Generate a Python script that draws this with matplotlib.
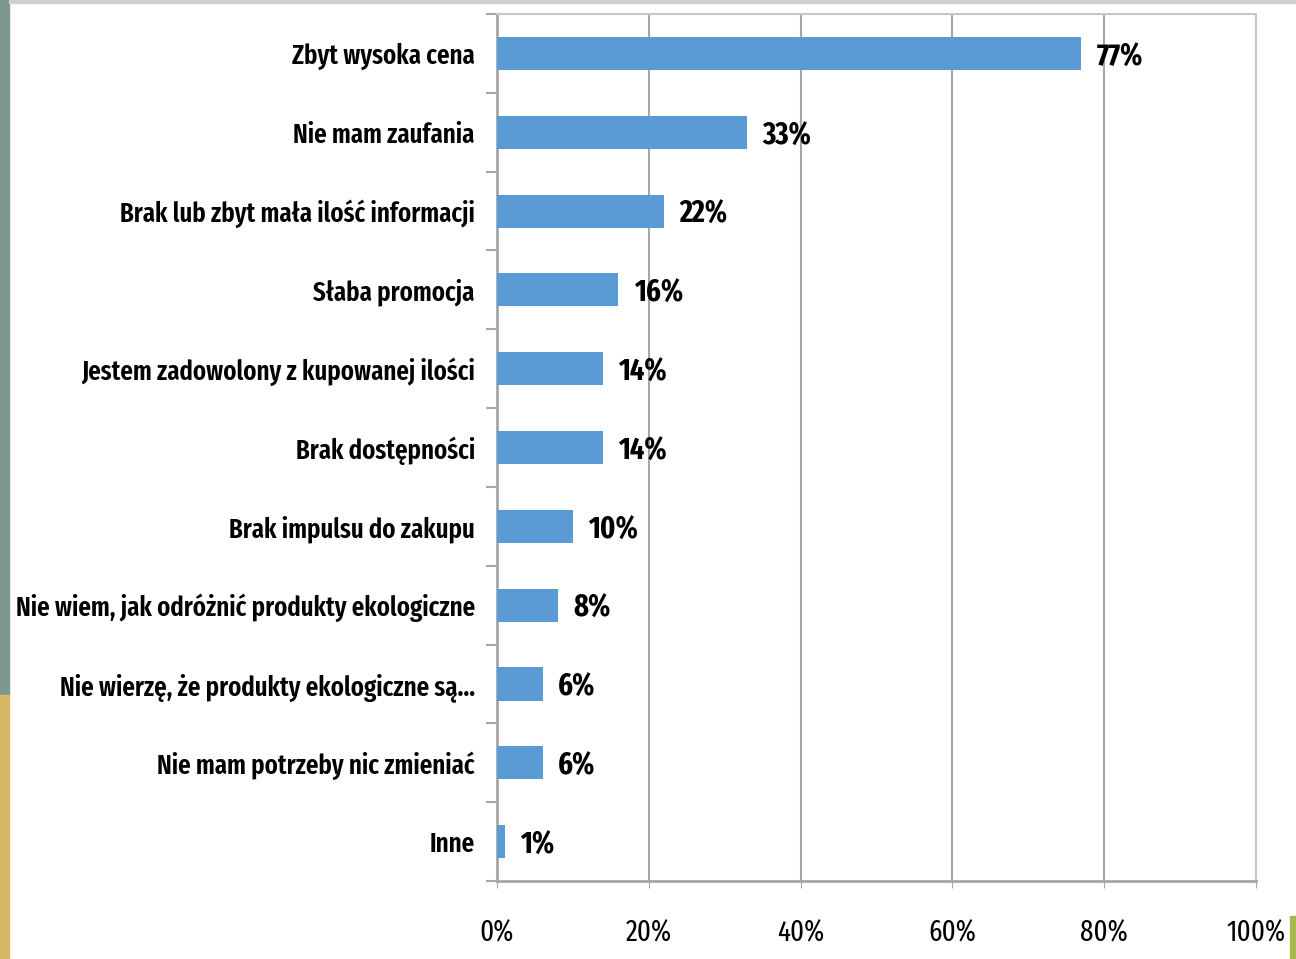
import matplotlib
matplotlib.use("Agg")
import matplotlib.pyplot as plt
from matplotlib.patches import Rectangle

# dane ankiety: powody niekupowania produktów ekologicznych (%)
kategorie = [
    "Zbyt wysoka cena",
    "Nie mam zaufania",
    "Brak lub zbyt mała ilość informacji",
    "Słaba promocja",
    "Jestem zadowolony z kupowanej ilości",
    "Brak dostępności",
    "Brak impulsu do zakupu",
    "Nie wiem, jak odróżnić produkty ekologiczne",
    "Nie wierzę, że produkty ekologiczne są...",
    "Nie mam potrzeby nic zmieniać",
    "Inne",
]
wartosci = [77, 33, 22, 16, 14, 14, 10, 8, 6, 6, 1]
xticki = [0, 20, 40, 60, 80, 100]

FONT = ["Fira Sans Extra Condensed", "PT Sans Narrow", "DejaVu Sans"]
plt.rcParams["font.family"] = FONT

fig = plt.figure(figsize=(12.96, 9.59), dpi=100)
fig.patch.set_facecolor("white")

# pasek tła slajdu po lewej stronie i drobne elementy w rogach
fig.patches.append(Rectangle((0, 0.275), 0.007, 0.725, transform=fig.transFigure,
                             color="#7d978c", zorder=0))
fig.patches.append(Rectangle((0, 0), 0.007, 0.275, transform=fig.transFigure,
                             color="#d6b766", zorder=0))
fig.patches.append(Rectangle((0.995, 0), 0.005, 0.045, transform=fig.transFigure,
                             color="#a9b94c", zorder=0))
fig.patches.append(Rectangle((0.007, 0.997), 0.993, 0.003, transform=fig.transFigure,
                             color="#d0d0d0", zorder=0))

ax = fig.add_axes([0.3835, 0.0813, 0.5855, 0.9041])

y = list(range(len(kategorie)))
ax.barh(y, wartosci, height=0.42, color="#5b9bd5", zorder=3)

for yi, v in zip(y, wartosci):
    ax.text(v + 2.0, yi + 0.05, f"{v}%", va="center", ha="left", fontsize=22,
            fontweight="bold", color="black", zorder=4)

ax.set_xlim(0, 100)
ax.set_ylim(len(kategorie) - 0.5, -0.5)
ax.set_xticks(xticki)
ax.set_xticklabels([f"{t}%" for t in xticki], fontsize=21)
ax.tick_params(axis="x", length=5, color="#a6a6a6", pad=22)
ax.xaxis.grid(True, color="#a6a6a6", linewidth=1.5, zorder=0)

# kreski podziału między kategoriami, etykiety na środku
ax.set_yticks([i + 0.5 for i in range(-1, len(kategorie))])
ax.set_yticklabels([])
ax.tick_params(axis="y", which="major", length=8, color="#a6a6a6", width=1.5)
ax.set_yticks(y, minor=True)
ax.set_yticklabels(kategorie, minor=True, fontsize=19.5, fontweight="semibold")
ax.tick_params(axis="y", which="minor", length=0, pad=16)

for side in ["top", "right"]:
    ax.spines[side].set_color("#c8c8c8")
    ax.spines[side].set_linewidth(1.5)
for side in ["left", "bottom"]:
    ax.spines[side].set_color("#a6a6a6")
    ax.spines[side].set_linewidth(2)

fig.savefig("out.png", dpi=100)
